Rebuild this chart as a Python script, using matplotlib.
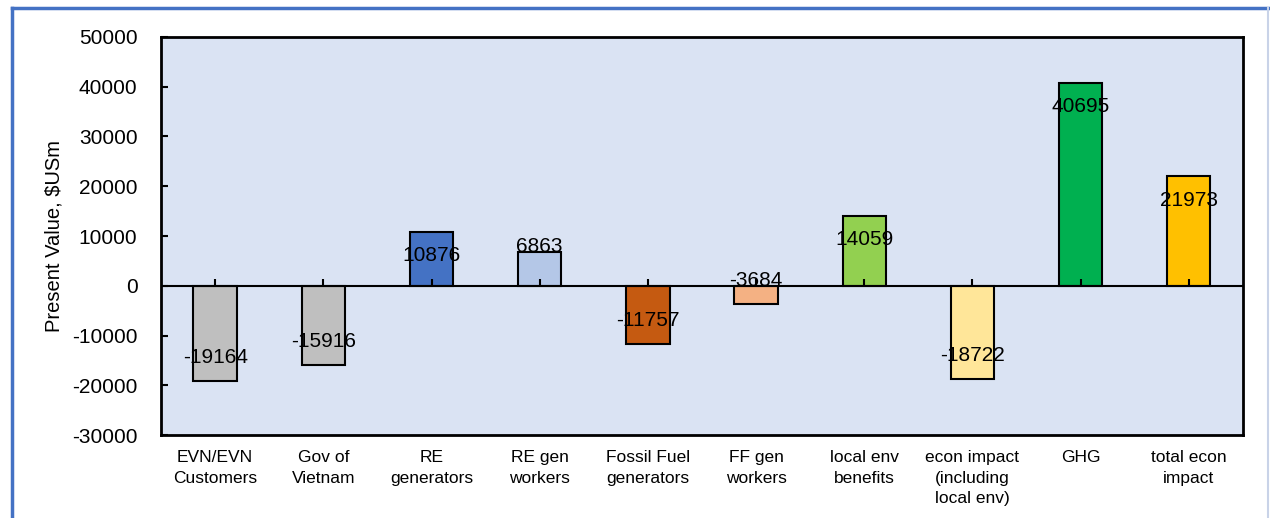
import matplotlib.pyplot as plt
from matplotlib.lines import Line2D

plt.rcParams['font.family'] = ['Liberation Sans', 'DejaVu Sans']
plt.rcParams['axes.unicode_minus'] = False

categories = ["EVN/EVN\nCustomers", "Gov of\nVietnam", "RE\ngenerators", "RE gen\nworkers",
              "Fossil Fuel\ngenerators", "FF gen\nworkers", "local env\nbenefits",
              "econ impact\n(including\nlocal env)", "GHG", "total econ\nimpact"]
values = [-19164, -15916, 10876, 6863, -11757, -3684, 14059, -18722, 40695, 21973]
colors = ["#BFBFBF", "#BFBFBF", "#4472C4", "#B4C7E7", "#C55A11", "#F4B183",
          "#92D050", "#FFE699", "#00B050", "#FFC000"]
# vertical shift of each value label from the bar end, in points (positive = up)
label_shift = [17, 17, -17, 4, 17, 17, -17, 17, -17, -17]

fig = plt.figure(figsize=(12.7, 5.18), dpi=100)
ax = fig.add_axes([0.1268, 0.1602, 0.8519, 0.7684])
ax.set_facecolor("#DAE3F3")

x = list(range(len(values)))
ax.bar(x, values, width=0.4, color=colors, edgecolor="black", linewidth=1.5, zorder=3)
ax.axhline(0, color="black", linewidth=1.5, zorder=4)
ax.plot(x, [0] * len(x), linestyle="none", marker=2, markersize=5,
        markeredgewidth=1.5, color="black", zorder=5)

for xi, v, dy in zip(x, values, label_shift):
    ax.annotate(str(v), (xi, v), xytext=(0, dy), textcoords="offset points",
                ha="center", va="center", fontsize=15, zorder=6)

ax.set_xlim(-0.5, len(values) - 0.5)
ax.set_ylim(-30000, 50000)
ax.set_yticks(range(-30000, 50001, 10000))
ax.tick_params(axis="y", direction="in", length=5, width=1.5, pad=17, labelsize=15)
ax.set_xticks(x)
ax.set_xticklabels(categories, fontsize=12.5, va="top", linespacing=1.45)
ax.tick_params(axis="x", length=0, pad=11)
ax.set_ylabel("Present Value, \\$USm", fontsize=14.5, labelpad=6)
for s in ax.spines.values():
    s.set_linewidth(2)
    s.set_color("black")

# outer frame of the chart box
fig.add_artist(Line2D([0.0094, 0.9985], [0.984, 0.984], color="#4472C4", linewidth=2.5,
                      transform=fig.transFigure))
fig.add_artist(Line2D([0.0094, 0.0094], [0.0, 0.984], color="#4472C4", linewidth=2.5,
                      transform=fig.transFigure))
fig.add_artist(Line2D([0.9985, 0.9985], [0.0, 0.984], color="#C9D3E8", linewidth=1.5,
                      transform=fig.transFigure))

fig.savefig("out.png", dpi=100)
